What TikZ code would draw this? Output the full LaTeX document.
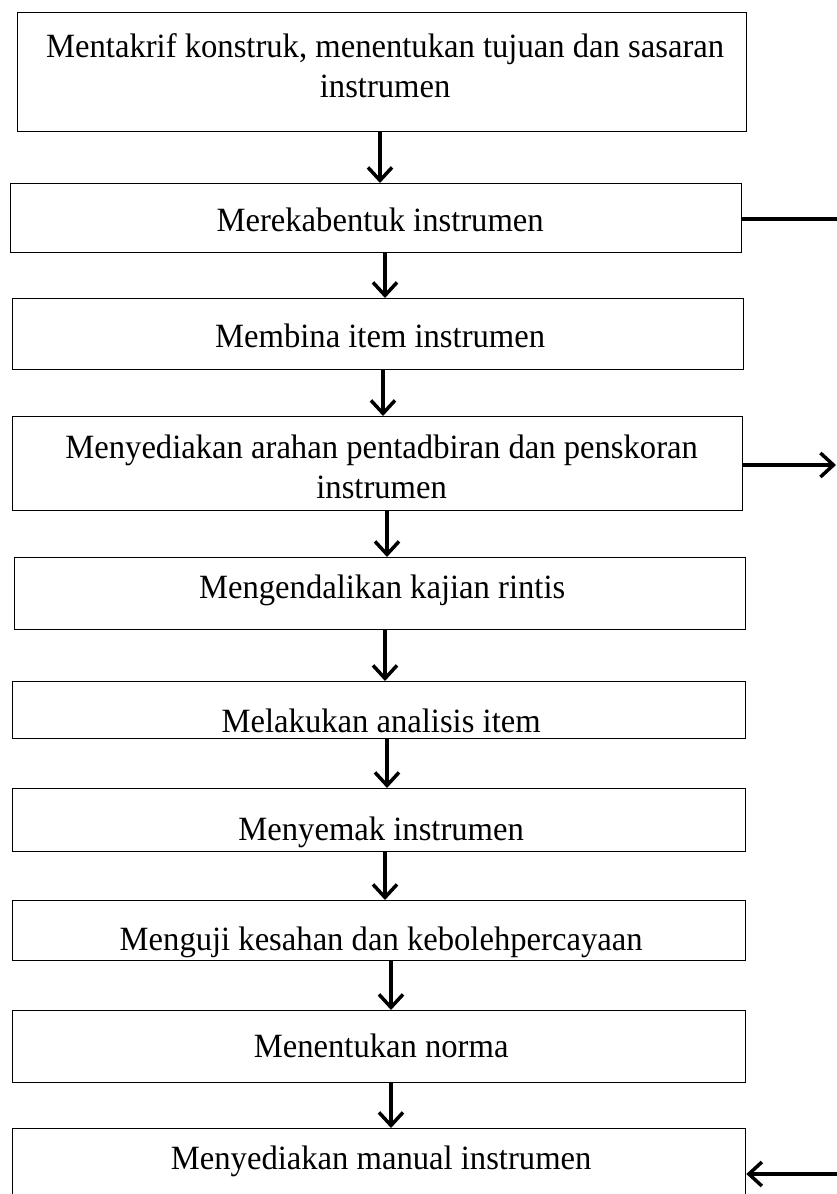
\documentclass[tikz,border=0pt]{standalone}
\usepackage{fontspec}
\setmainfont{Liberation Serif}[FakeStretch=0.96]
\usetikzlibrary{arrows.meta}
\begin{document}
\begin{tikzpicture}[x=1pt,y=-1pt,
  box/.style={draw=black, line width=1.3pt, rectangle, inner sep=0pt, anchor=north west},
  txt/.style={inner sep=0pt, align=center, font=\fontsize{34}{40}\selectfont},
  arr/.style={line width=3.5pt, -{Straight Barb[length=13pt,width=24pt,line width=3.5pt]}},
  thickline/.style={line width=3.5pt}]
\useasboundingbox (0,0) rectangle (837,1194);
\clip (0,0) rectangle (837,1194);
\fill[white] (0,0) rectangle (837,1194);
\node[box, minimum width=729pt, minimum height=119pt] (b1) at (17,12) {};
\node[box, minimum width=731pt, minimum height=69pt] (b2) at (10,183) {};
\node[box, minimum width=731pt, minimum height=71pt] (b3) at (12,298) {};
\node[box, minimum width=730pt, minimum height=94pt] (b4) at (12,416) {};
\node[box, minimum width=731pt, minimum height=72pt] (b5) at (14,557) {};
\node[box, minimum width=733pt, minimum height=57pt] (b6) at (12,681) {};
\node[box, minimum width=733pt, minimum height=63pt] (b7) at (12,788) {};
\node[box, minimum width=733pt, minimum height=60pt] (b8) at (12,900) {};
\node[box, minimum width=733pt, minimum height=72pt] (b9) at (12,1010) {};
\node[box, minimum width=733pt, minimum height=70pt] (b10) at (12,1128) {};
\node[txt] (t1) at ([xshift=3pt,yshift=6pt]b1.center) {Mentakrif konstruk, menentukan tujuan dan sasaran\\instrumen};
\node[txt] (t2) at ([xshift=4pt,yshift=-2pt]b2.center) {Merekabentuk instrumen};
\node[txt] (t3) at ([xshift=2pt,yshift=-2pt]b3.center) {Membina item instrumen};
\node[txt] (t4) at ([xshift=4pt,yshift=-3pt]b4.center) {Menyediakan arahan pentadbiran dan penskoran\\instrumen};
\node[txt] (t5) at ([xshift=2pt,yshift=3pt]b5.center) {Mengendalikan kajian rintis};
\node[txt] (t6) at ([xshift=2pt,yshift=-11pt]b6.center) {Melakukan analisis item};
\node[txt] (t7) at ([xshift=2pt,yshift=-12pt]b7.center) {Menyemak instrumen};
\node[txt] (t8) at ([xshift=2pt,yshift=-12pt]b8.center) {Menguji kesahan dan kebolehpercayaan};
\node[txt] (t9) at ([xshift=2pt,yshift=1pt]b9.center) {Menentukan norma};
\node[txt] (t10) at ([xshift=2pt,yshift=2pt]b10.center) {Menyediakan manual instrumen};
\draw[arr] (b1.south -| 380,0) -- (b2.north -| 380,0);
\draw[arr] (b2.south -| 385,0) -- (b3.north -| 385,0);
\draw[arr] (b3.south -| 383,0) -- (b4.north -| 383,0);
\draw[arr] (b4.south -| 387,0) -- (b5.north -| 387,0);
\draw[arr] (b5.south -| 385,0) -- (b6.north -| 385,0);
\draw[arr] (b6.south -| 387,0) -- (b7.north -| 387,0);
\draw[arr] (b7.south -| 385,0) -- (b8.north -| 385,0);
\draw[arr] (b8.south -| 391,0) -- (b9.north -| 391,0);
\draw[arr] (b9.south -| 391,0) -- (b10.north -| 391,0);
\coordinate (r2) at (837,219);
\coordinate (r4) at (836,465);
\coordinate (r10) at (837,1174);
\draw[thickline] (b2.east |- r2) -- (r2);
\draw[arr] (b4.east |- r4) -- (r4);
\draw[arr] (r10) -- (b10.east |- r10);
\end{tikzpicture}
\end{document}
